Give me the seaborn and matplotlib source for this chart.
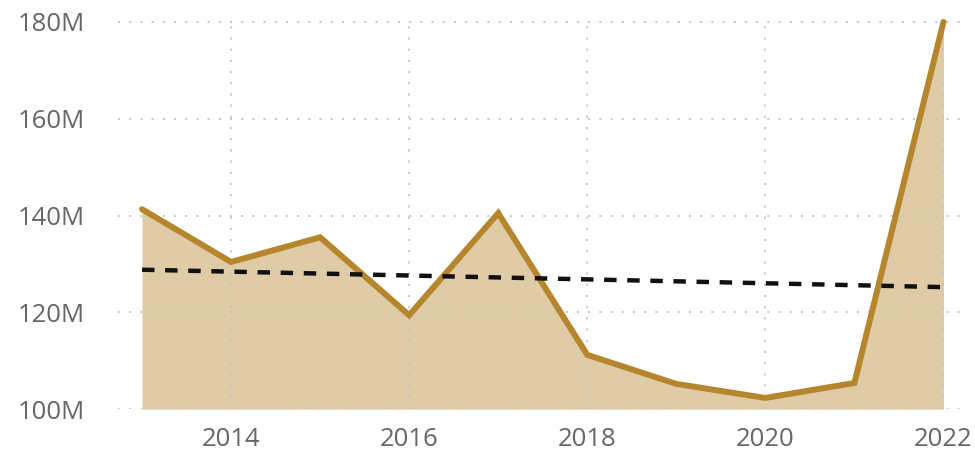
import matplotlib
matplotlib.use("Agg")
import matplotlib.pyplot as plt
import seaborn as sns
import pandas as pd

# Yearly totals (millions)
years = [2013, 2014, 2015, 2016, 2017, 2018, 2019, 2020, 2021, 2022]
values = [141.3, 130.4, 135.5, 119.4, 140.5, 111.2, 105.2, 102.3, 105.4, 180.0]

# Trend line end points (millions)
trend_years = [2013, 2022]
trend_values = [128.8, 125.2]

x_ticks = [2014, 2016, 2018, 2020, 2022]
y_ticks = [100, 120, 140, 160, 180]
y_labels = ["100M", "120M", "140M", "160M", "180M"]

sns.set_style("white")
plt.rcParams["font.family"] = ["Open Sans", "DejaVu Sans"]

df = pd.DataFrame({"year": years, "value": values})
trend = pd.DataFrame({"year": trend_years, "value": trend_values})

fig = plt.figure(figsize=(9.75, 4.51), dpi=100)
ax = fig.add_axes([0.121, 0.093, 0.864, 0.869])

line_color = "#b5862b"
fill_color = "#dfcba6"
grid_color = "#c4c4c4"
text_color = "#666666"

ax.fill_between(df["year"], df["value"], 100, color=fill_color, lw=0, zorder=1)
sns.lineplot(data=df, x="year", y="value", ax=ax, color=line_color, lw=4.3,
             solid_joinstyle="miter", zorder=3)
sns.lineplot(data=trend, x="year", y="value", ax=ax, color="#111111", lw=3.2,
             dashes=False, zorder=4).lines[-1].set_dashes((2.8, 2.4))

ax.set_xlim(2012.73, 2022.19)
ax.set_ylim(100, 181)
ax.set_xticks(x_ticks)
ax.set_yticks(y_ticks)
ax.set_yticklabels(y_labels)
ax.set_xlabel("")
ax.set_ylabel("")

ax.grid(True, color=grid_color, linestyle=(0, (1.2, 5)), lw=1.3, zorder=2)
ax.set_axisbelow(False)
for gl in ax.get_xgridlines() + ax.get_ygridlines():
    gl.set_zorder(2)

for s in ax.spines.values():
    s.set_visible(False)

ax.tick_params(axis="both", length=0, labelsize=18.5, colors=text_color)
ax.tick_params(axis="y", pad=24)
ax.tick_params(axis="x", pad=13)

fig.savefig("out.png", dpi=100)
